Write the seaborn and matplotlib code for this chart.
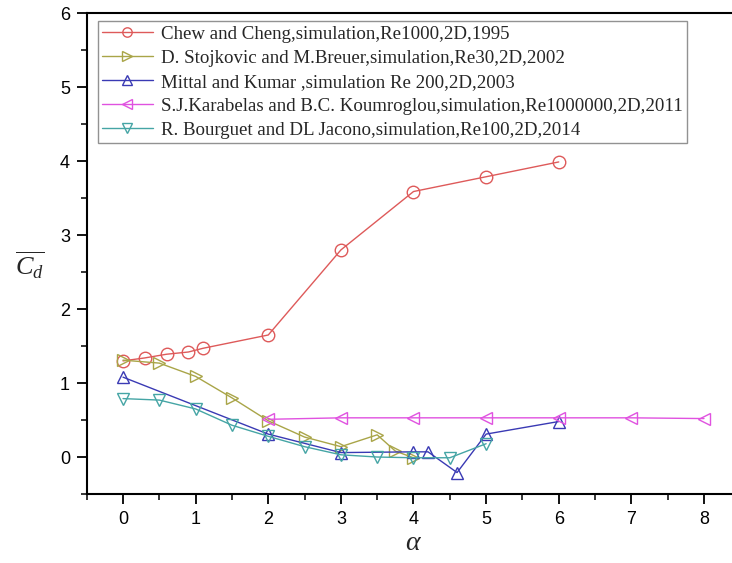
import matplotlib
matplotlib.use("Agg")
import matplotlib.pyplot as plt
from matplotlib.ticker import MultipleLocator
import seaborn as sns
import pandas as pd

# ---- data ----
chew_x = [0, 0.3, 0.6, 0.9, 1.1, 2, 3, 4, 5, 6]
chew_y = [1.30, 1.34, 1.39, 1.42, 1.47, 1.65, 2.80, 3.59, 3.79, 3.99]

stoj_x = [0, 0.5, 1, 1.5, 2, 2.5, 3, 3.5, 3.75, 4]
stoj_y = [1.31, 1.27, 1.09, 0.80, 0.49, 0.27, 0.14, 0.30, 0.08, -0.01]

mittal_x = [0, 2, 3, 4, 4.2, 4.6, 5, 6]
mittal_y = [1.08, 0.31, 0.06, 0.07, 0.07, -0.21, 0.31, 0.48]

kara_x = [2, 3, 4, 5, 6, 7, 8]
kara_y = [0.51, 0.53, 0.53, 0.53, 0.53, 0.53, 0.52]

bour_x = [0, 0.5, 1, 1.5, 2, 2.5, 3, 3.5, 4, 4.5, 5]
bour_y = [0.79, 0.77, 0.65, 0.43, 0.28, 0.14, 0.03, 0.00, -0.01, -0.01, 0.18]

labels = [
    "Chew and Cheng,simulation,Re1000,2D,1995",
    "D. Stojkovic and M.Breuer,simulation,Re30,2D,2002",
    "Mittal and Kumar ,simulation Re 200,2D,2003",
    "S.J.Karabelas and B.C. Koumroglou,simulation,Re1000000,2D,2011",
    "R. Bourguet and DL Jacono,simulation,Re100,2D,2014",
]
xticks = [0, 1, 2, 3, 4, 5, 6, 7, 8]
yticks = [0, 1, 2, 3, 4, 5, 6]

series = [(chew_x, chew_y), (stoj_x, stoj_y), (mittal_x, mittal_y),
          (kara_x, kara_y), (bour_x, bour_y)]
colors = ["#DE5A5A", "#A9A548", "#3A3AB4", "#E052E0", "#45A5A5"]
markers = ["o", ">", "^", "<", "v"]

sns.set_style("ticks")
plt.rcParams["font.family"] = ["Liberation Sans", "DejaVu Sans"]
plt.rcParams["mathtext.fontset"] = "custom"
plt.rcParams["mathtext.rm"] = "Liberation Serif"
plt.rcParams["mathtext.it"] = "Liberation Serif:italic"

W, H = 732, 563
fig = plt.figure(figsize=(W / 100, H / 100), dpi=100)
left_px, right_px, top_px, bot_px = 86.7, 740.3, 13.3, 494.0
ax = fig.add_axes([left_px / W, 1 - bot_px / H,
                   (right_px - left_px) / W, (bot_px - top_px) / H])

for (xs, ys), lab, c, m in zip(series, labels, colors, markers):
    df = pd.DataFrame({"alpha": xs, "cd": ys})
    sns.lineplot(data=df, x="alpha", y="cd", ax=ax, color=c, marker=m,
                 markersize=9, markerfacecolor="none", markeredgecolor=c,
                 markeredgewidth=1.0, linewidth=1.0, label=lab,
                 estimator=None, sort=False)

ax.set_xlim(-0.5, 8.5)
ax.set_ylim(-0.5, 6)
ax.set_xticks(xticks)
ax.set_yticks(yticks)
ax.xaxis.set_minor_locator(MultipleLocator(0.5))
ax.yaxis.set_minor_locator(MultipleLocator(0.5))
ax.tick_params(which="major", direction="out", length=7, width=1.3,
               labelsize=13, colors="black", pad=5)
ax.tick_params(which="minor", direction="out", length=4, width=1.3)
for s in ax.spines.values():
    s.set_linewidth(1.5)
    s.set_color("black")

ax.set_xlabel(r"$\alpha$", fontsize=20, labelpad=2)
ax.set_ylabel(r"$\overline{C_d}$", fontsize=19, rotation=0,
              ha="center", va="center")
ax.yaxis.set_label_coords(-0.087, 0.475)

leg = ax.legend(loc="upper left", bbox_to_anchor=(0.017, 0.983),
                borderaxespad=0, frameon=True, fancybox=False,
                prop={"family": "Liberation Serif", "size": 13.6},
                handlelength=2.7, handletextpad=0.4, labelspacing=0.36,
                borderpad=0.22, markerscale=0.75)
leg.get_frame().set_edgecolor("#777777")
leg.get_frame().set_linewidth(1.0)

fig.savefig("out.png", dpi=100)
